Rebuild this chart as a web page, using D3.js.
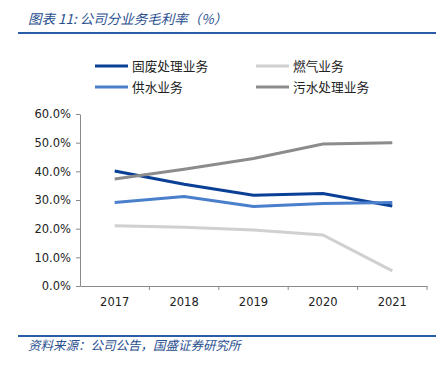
<!DOCTYPE html>
<html><head><meta charset="utf-8">
<script src="https://cdn.jsdelivr.net/npm/d3@7"></script>
<style>body{margin:0;background:#fff;}svg{display:block;}</style>
</head><body>
<svg id="c" width="444" height="369"></svg>
<script>
const years = ["2017","2018","2019","2020","2021"];
const solidWaste = [40.1, 35.5, 31.7, 32.3, 27.9];
const gas = [21.0, 20.5, 19.5, 17.8, 5.3];
const water = [29.1, 31.2, 27.7, 28.8, 29.1];
const sewage = [37.3, 40.7, 44.5, 49.5, 50.0];
const yTicks = [0, 10, 20, 30, 40, 50, 60];
const seriesNames = ["固废处理业务", "燃气业务", "供水业务", "污水处理业务"];
const seriesColors = ["#0a3f96", "#d0d0d0", "#4a7fcb", "#8c8c8c"];
const seriesData = [solidWaste, gas, water, sewage];

const svg = d3.select("#c");
const fontCN = "'Noto Sans CJK SC', sans-serif";
const blue = "#2a5ca8";

// title
svg.append("text").attr("x", 28).attr("y", 24).attr("font-family", fontCN)
  .attr("font-size", 13.5).attr("font-style", "italic").attr("fill", "#2a4f8f")
  .text("图表 11:  公司分业务毛利率（%）");
svg.append("line").attr("x1", 18).attr("x2", 436).attr("y1", 33).attr("y2", 33)
  .attr("stroke", blue).attr("stroke-width", 2);

// footer
svg.append("line").attr("x1", 18).attr("x2", 436).attr("y1", 336).attr("y2", 336)
  .attr("stroke", blue).attr("stroke-width", 2);
svg.append("text").attr("x", 28).attr("y", 350).attr("font-family", fontCN)
  .attr("font-size", 12.5).attr("font-style", "italic").attr("fill", "#2a4f8f")
  .text("资料来源：公司公告，国盛证券研究所");

const x = d3.scaleBand().domain(years).range([80, 427]);
const y = d3.scaleLinear().domain([0, 60]).range([286, 114]);

const yAxis = d3.axisLeft(y).tickValues(yTicks).tickFormat(d => d.toFixed(1) + "%").tickSize(4).tickSizeOuter(0);
const gy = svg.append("g").attr("transform", "translate(80,0)").call(yAxis);
const xAxis = d3.axisBottom(x).tickSize(0).tickSizeOuter(0);
const gx = svg.append("g").attr("transform", "translate(0,286)").call(xAxis);
// tick marks at band boundaries
gx.selectAll(".bnd").data(years).enter().append("line").attr("class", "bnd")
  .attr("x1", d => x(d) + x.bandwidth()).attr("x2", d => x(d) + x.bandwidth())
  .attr("y1", 0).attr("y2", 4).attr("stroke", "#8a8a8a");
[gx, gy].forEach(g => {
  g.select(".domain").attr("stroke", "#8a8a8a");
  g.selectAll(".tick line").attr("stroke", "#8a8a8a");
  g.selectAll("text").attr("font-family", "'DejaVu Sans', sans-serif").attr("font-size", 11.5).attr("fill", "#222");
});
gx.selectAll(".tick text").attr("dy", "1.45em");
gy.selectAll(".tick text").attr("dx", "-2");

const line = d3.line().x((d, i) => x(years[i]) + x.bandwidth() / 2).y(d => y(d));
seriesData.forEach((s, k) => {
  svg.append("path").datum(s).attr("d", line).attr("fill", "none")
    .attr("stroke", seriesColors[k]).attr("stroke-width", 3);
});

// legend
const legPos = [[95, 66], [256, 66], [95, 87], [256, 87]];
seriesNames.forEach((n, k) => {
  const [lx, ly] = legPos[k];
  svg.append("line").attr("x1", lx).attr("x2", lx + 33).attr("y1", ly).attr("y2", ly)
    .attr("stroke", seriesColors[k]).attr("stroke-width", 3);
  svg.append("text").attr("x", lx + 37).attr("y", ly + 4.5).attr("font-family", fontCN)
    .attr("font-size", 12.7).attr("fill", "#222").text(n);
});
</script>
</body></html>
